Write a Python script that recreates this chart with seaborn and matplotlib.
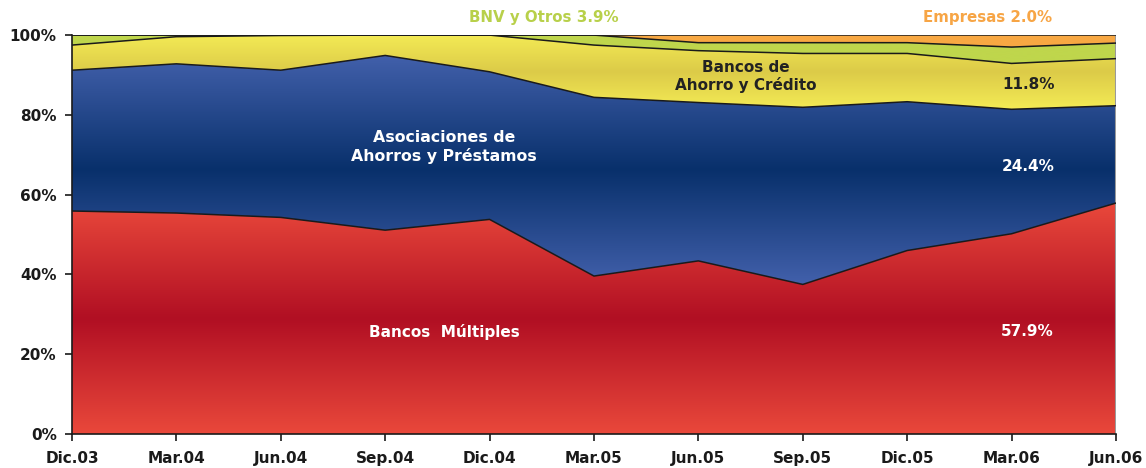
import numpy as np
import pandas as pd
import matplotlib.pyplot as plt
import seaborn as sns
from matplotlib.colors import LinearSegmentedColormap

# Quarterly shares of the system (%)
periods = ['Dic.03', 'Mar.04', 'Jun.04', 'Sep.04', 'Dic.04', 'Mar.05',
           'Jun.05', 'Sep.05', 'Dic.05', 'Mar.06', 'Jun.06']
bancos_multiples = [55.9, 55.4, 54.3, 51.1, 53.8, 39.6, 43.4, 37.5, 46.0, 50.2, 57.9]
asociaciones = [35.3, 37.4, 36.9, 43.8, 37.0, 44.8, 39.7, 44.4, 37.3, 31.2, 24.4]
bancos_ahorro = [6.3, 6.8, 8.7, 5.1, 9.2, 13.1, 13.0, 13.5, 12.1, 11.5, 11.8]
bnv_otros = [2.5, 0.4, 0.1, 0.0, 0.0, 2.5, 2.0, 2.7, 2.7, 4.1, 3.9]
empresas = [0.0, 0.0, 0.0, 0.0, 0.0, 0.0, 1.9, 1.9, 1.9, 3.0, 2.0]

sns.set_style('white')
plt.rcParams['font.family'] = ['DejaVu Sans']

df = pd.DataFrame({'periodo': periods,
                   'Bancos Múltiples': bancos_multiples,
                   'Asociaciones': asociaciones,
                   'Bancos de Ahorro': bancos_ahorro,
                   'BNV y Otros': bnv_otros,
                   'Empresas': empresas})
df['x'] = np.arange(len(df))
series = ['Bancos Múltiples', 'Asociaciones', 'Bancos de Ahorro', 'BNV y Otros', 'Empresas']
cum = df[series].cumsum(axis=1)

# gradient per layer: edge colour -> centre colour -> edge colour
grads = {
    'Bancos Múltiples': ['#e9483b', '#b10f23', '#e9483b'],
    'Asociaciones': ['#4260ab', '#08306b', '#4260ab'],
    'Bancos de Ahorro': ['#f4eb55', '#dccb48', '#f4eb55'],
    'BNV y Otros': ['#bfd64c', '#bfd64c', '#bfd64c'],
    'Empresas': ['#f8a843', '#f8a843', '#f8a843'],
}

fig = plt.figure(figsize=(11.46, 4.68), dpi=100)
ax = fig.add_axes([0.0628, 0.0726, 0.9110, 0.8524])

x = df['x'].values
lower = np.zeros(len(df))
for s in series:
    upper = cum[s].values
    poly = ax.fill_between(x, lower, upper, color='none', lw=0)
    lo, hi = lower.min(), upper.max()
    if hi > lo:
        cmap = LinearSegmentedColormap.from_list(s, grads[s])
        grad = np.linspace(0, 1, 256).reshape(-1, 1)
        im = ax.imshow(grad, cmap=cmap, aspect='auto', origin='lower',
                       extent=[x[0], x[-1], lo, hi], zorder=1)
        im.set_clip_path(poly.get_paths()[0], transform=ax.transData)
    lower = upper

# boundary lines between layers
bounds = cum.copy()
bounds['x'] = x
long = bounds.melt(id_vars='x', var_name='capa', value_name='valor')
sns.lineplot(data=long, x='x', y='valor', hue='capa', palette=['#1a1a1a'] * len(series),
             legend=False, linewidth=1.1, ax=ax, zorder=3)
ax.plot([x[-1], x[-1]], [0, 100], color='#9a9a9a', lw=1.5, zorder=2)

ax.set_xlim(x[0], x[-1])
ax.set_ylim(0, 100)
ax.set_xticks(x)
ax.set_xticklabels(periods, fontsize=11, fontweight='bold', color='#1a1a1a')
ax.set_yticks(range(0, 101, 20))
ax.set_yticklabels([f'{v}%' for v in range(0, 101, 20)], fontsize=11,
                   fontweight='bold', color='#1a1a1a')
ax.tick_params(axis='both', direction='out', length=5, width=1.2, color='#1a1a1a',
               bottom=True, left=True)
ax.tick_params(axis='x', pad=7)
ax.tick_params(axis='y', pad=6)
ax.set_xlabel('')
ax.set_ylabel('')
for side in ['top', 'right']:
    ax.spines[side].set_visible(False)
for side in ['left', 'bottom']:
    ax.spines[side].set_color('#1a1a1a')
    ax.spines[side].set_linewidth(1.2)
    ax.spines[side].set_zorder(4)

# labels
ax.text(4.52, 104.4, 'BNV y Otros 3.9%', color='#b8d04a', fontsize=10.8,
        fontweight='bold', ha='center', va='center', clip_on=False)
ax.text(8.77, 104.4, 'Empresas 2.0%', color='#f7a545', fontsize=10.8,
        fontweight='bold', ha='center', va='center', clip_on=False)
ax.text(6.45, 89.6, 'Bancos de\nAhorro y Crédito', color='#222222', fontsize=11,
        fontweight='bold', ha='center', va='center', linespacing=1.2, zorder=5)
ax.text(9.16, 87.5, '11.8%', color='#222222', fontsize=11,
        fontweight='bold', ha='center', va='center', zorder=5)
ax.text(3.56, 72.0, 'Asociaciones de\nAhorros y Préstamos', color='white', fontsize=11.3,
        fontweight='bold', ha='center', va='center', linespacing=1.2, zorder=5)
ax.text(9.16, 67.0, '24.4%', color='white', fontsize=11,
        fontweight='bold', ha='center', va='center', zorder=5)
ax.text(3.57, 25.5, 'Bancos  Múltiples', color='white', fontsize=11,
        fontweight='bold', ha='center', va='center', zorder=5)
ax.text(9.15, 25.8, '57.9%', color='white', fontsize=11,
        fontweight='bold', ha='center', va='center', zorder=5)

fig.savefig('out.png', dpi=100)
